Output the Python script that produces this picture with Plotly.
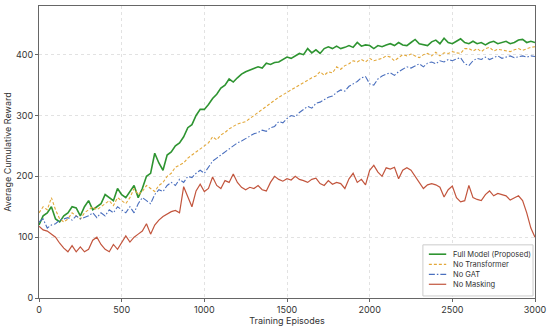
import plotly.graph_objects as go

episodes = list(range(0, 3001, 25))

full_model = [120, 135, 140, 150, 130, 125, 135, 140, 150, 148, 135, 150, 160, 145, 150, 155,
              170, 165, 160, 180, 170, 165, 175, 185, 165, 180, 200, 205, 238, 222, 210, 235,
              240, 250, 255, 265, 280, 285, 300, 310, 310, 318, 328, 335, 345, 350, 360, 355,
              362, 368, 372, 375, 378, 380, 378, 386, 384, 387, 388, 392, 396, 394, 398, 402,
              400, 410, 403, 408, 402, 410, 413, 410, 414, 410, 412, 415, 412, 420, 414, 416,
              415, 410, 415, 413, 416, 418, 415, 420, 416, 415, 420, 425, 418, 417, 415, 421,
              424, 418, 427, 420, 418, 422, 426, 420, 418, 422, 418, 420, 416, 420, 422, 418,
              420, 422, 418, 420, 424, 425, 420, 422, 420]

no_transformer = [140, 150, 145, 165, 145, 130, 125, 130, 140, 135, 130, 140, 145, 150, 145, 150,
                  155, 160, 152, 165, 160, 155, 165, 180, 170, 175, 185, 180, 175, 185, 190, 200,
                  205, 215, 218, 222, 230, 235, 240, 245, 250, 255, 265, 260, 268, 272, 278, 282,
                  286, 288, 290, 295, 300, 305, 310, 315, 320, 326, 330, 334, 338, 343, 346, 350,
                  355, 358, 362, 365, 372, 366, 372, 370, 380, 376, 382, 385, 390, 388, 392, 388,
                  394, 390, 392, 394, 398, 396, 390, 395, 400, 398, 401, 398, 395, 400, 402, 398,
                  404, 398, 403, 402, 405, 403, 402, 410, 410, 406, 410, 405, 410, 412, 406, 409,
                  408, 406, 405, 408, 410, 407, 410, 412, 413]

no_gat = [125, 130, 115, 120, 122, 128, 130, 132, 128, 135, 130, 132, 135, 140, 132, 140,
          135, 145, 140, 150, 145, 140, 150, 140, 155, 165, 160, 155, 170, 178, 175, 185,
          190, 185, 195, 190, 200, 198, 205, 210, 205, 215, 225, 230, 235, 240, 245, 250,
          255, 258, 262, 265, 270, 272, 276, 274, 280, 282, 290, 288, 295, 300, 298, 305,
          310, 315, 312, 320, 322, 326, 330, 332, 338, 342, 340, 348, 352, 356, 362, 364,
          352, 350, 360, 365, 368, 370, 366, 372, 376, 380, 378, 382, 385, 380, 386, 388,
          385, 390, 388, 392, 390, 393, 395, 385, 382, 390, 394, 392, 396, 392, 395, 398,
          394, 396, 398, 395, 397, 398, 396, 398, 397]

no_masking = [118, 112, 110, 105, 100, 90, 82, 76, 86, 76, 84, 76, 80, 95, 100, 88,
              80, 76, 88, 80, 92, 102, 92, 100, 105, 110, 122, 105, 120, 128, 134, 138,
              142, 144, 140, 183, 165, 150, 176, 187, 175, 180, 199, 185, 180, 193, 190, 204,
              190, 182, 178, 182, 180, 185, 178, 176, 190, 200, 195, 192, 196, 194, 200, 195,
              193, 190, 195, 197, 188, 185, 193, 187, 190, 188, 180, 196, 205, 190, 195, 186,
              210, 218, 207, 200, 214, 212, 215, 196, 210, 214, 210, 200, 188, 180, 186, 188,
              186, 182, 166, 178, 184, 165, 158, 160, 185, 165, 162, 160, 170, 176, 168, 172,
              170, 168, 161, 165, 168, 160, 140, 115, 100]

series_names = ["Full Model (Proposed)", "No Transformer", "No GAT", "No Masking"]
series_values = [full_model, no_transformer, no_gat, no_masking]
colors = ["#2e9431", "#e3a83a", "#4a6fbe", "#c2553d"]
dashes = ["solid", "3px,2px", "6px,2px,1.5px,2px", "solid"]
widths = [1.6, 1.1, 1.1, 1.2]

fig = go.Figure()
for name, vals, c, d, w in zip(series_names, series_values, colors, dashes, widths):
    fig.add_trace(go.Scatter(x=episodes, y=vals, mode="lines", name=name,
                             line=dict(color=c, dash=d, width=w), showlegend=False))

# compact legend drawn in paper coordinates
fig.add_shape(type="rect", xref="paper", yref="paper", x0=0.774, x1=0.996, y0=0.007, y1=0.182,
              line=dict(color="#cccccc", width=1), fillcolor="white", layer="above")
row_y = [0.150, 0.115, 0.081, 0.047]
for name, c, d, w, yy in zip(series_names, colors, dashes, widths, row_y):
    fig.add_shape(type="line", xref="paper", yref="paper", x0=0.786, x1=0.821, y0=yy, y1=yy,
                  line=dict(color=c, dash=d, width=w), layer="above")
    fig.add_annotation(xref="paper", yref="paper", x=0.831, y=yy, text=name, showarrow=False,
                       xanchor="left", yanchor="middle", font=dict(size=7.5, color="#333333"))

axis_common = dict(
    showline=True, linecolor="#666666", linewidth=1, mirror=True,
    ticks="outside", ticklen=3, tickcolor="#666666",
    showgrid=True, gridcolor="#e2e2e2", griddash="dot", gridwidth=1,
    zeroline=False, tickfont=dict(size=9, color="#333333"), automargin=False,
)

fig.update_layout(
    width=550, height=328,
    margin=dict(l=39, r=15, t=6, b=30),
    paper_bgcolor="white", plot_bgcolor="white",
    font=dict(family="Inter, Open Sans, sans-serif", size=9, color="#333333"),
    xaxis=dict(range=[0, 3000], tickvals=[0, 500, 1000, 1500, 2000, 2500, 3000],
               title=dict(text="Training Episodes", font=dict(size=9), standoff=0),
               **axis_common),
    yaxis=dict(range=[0, 480], tickvals=[0, 100, 200, 300, 400],
               title=dict(text="Average Cumulative Reward", font=dict(size=9), standoff=2),
               **axis_common),
    showlegend=False,
)

fig.write_html("out.html", config={"displayModeBar": False},
               post_script="document.body.style.margin='0';")
